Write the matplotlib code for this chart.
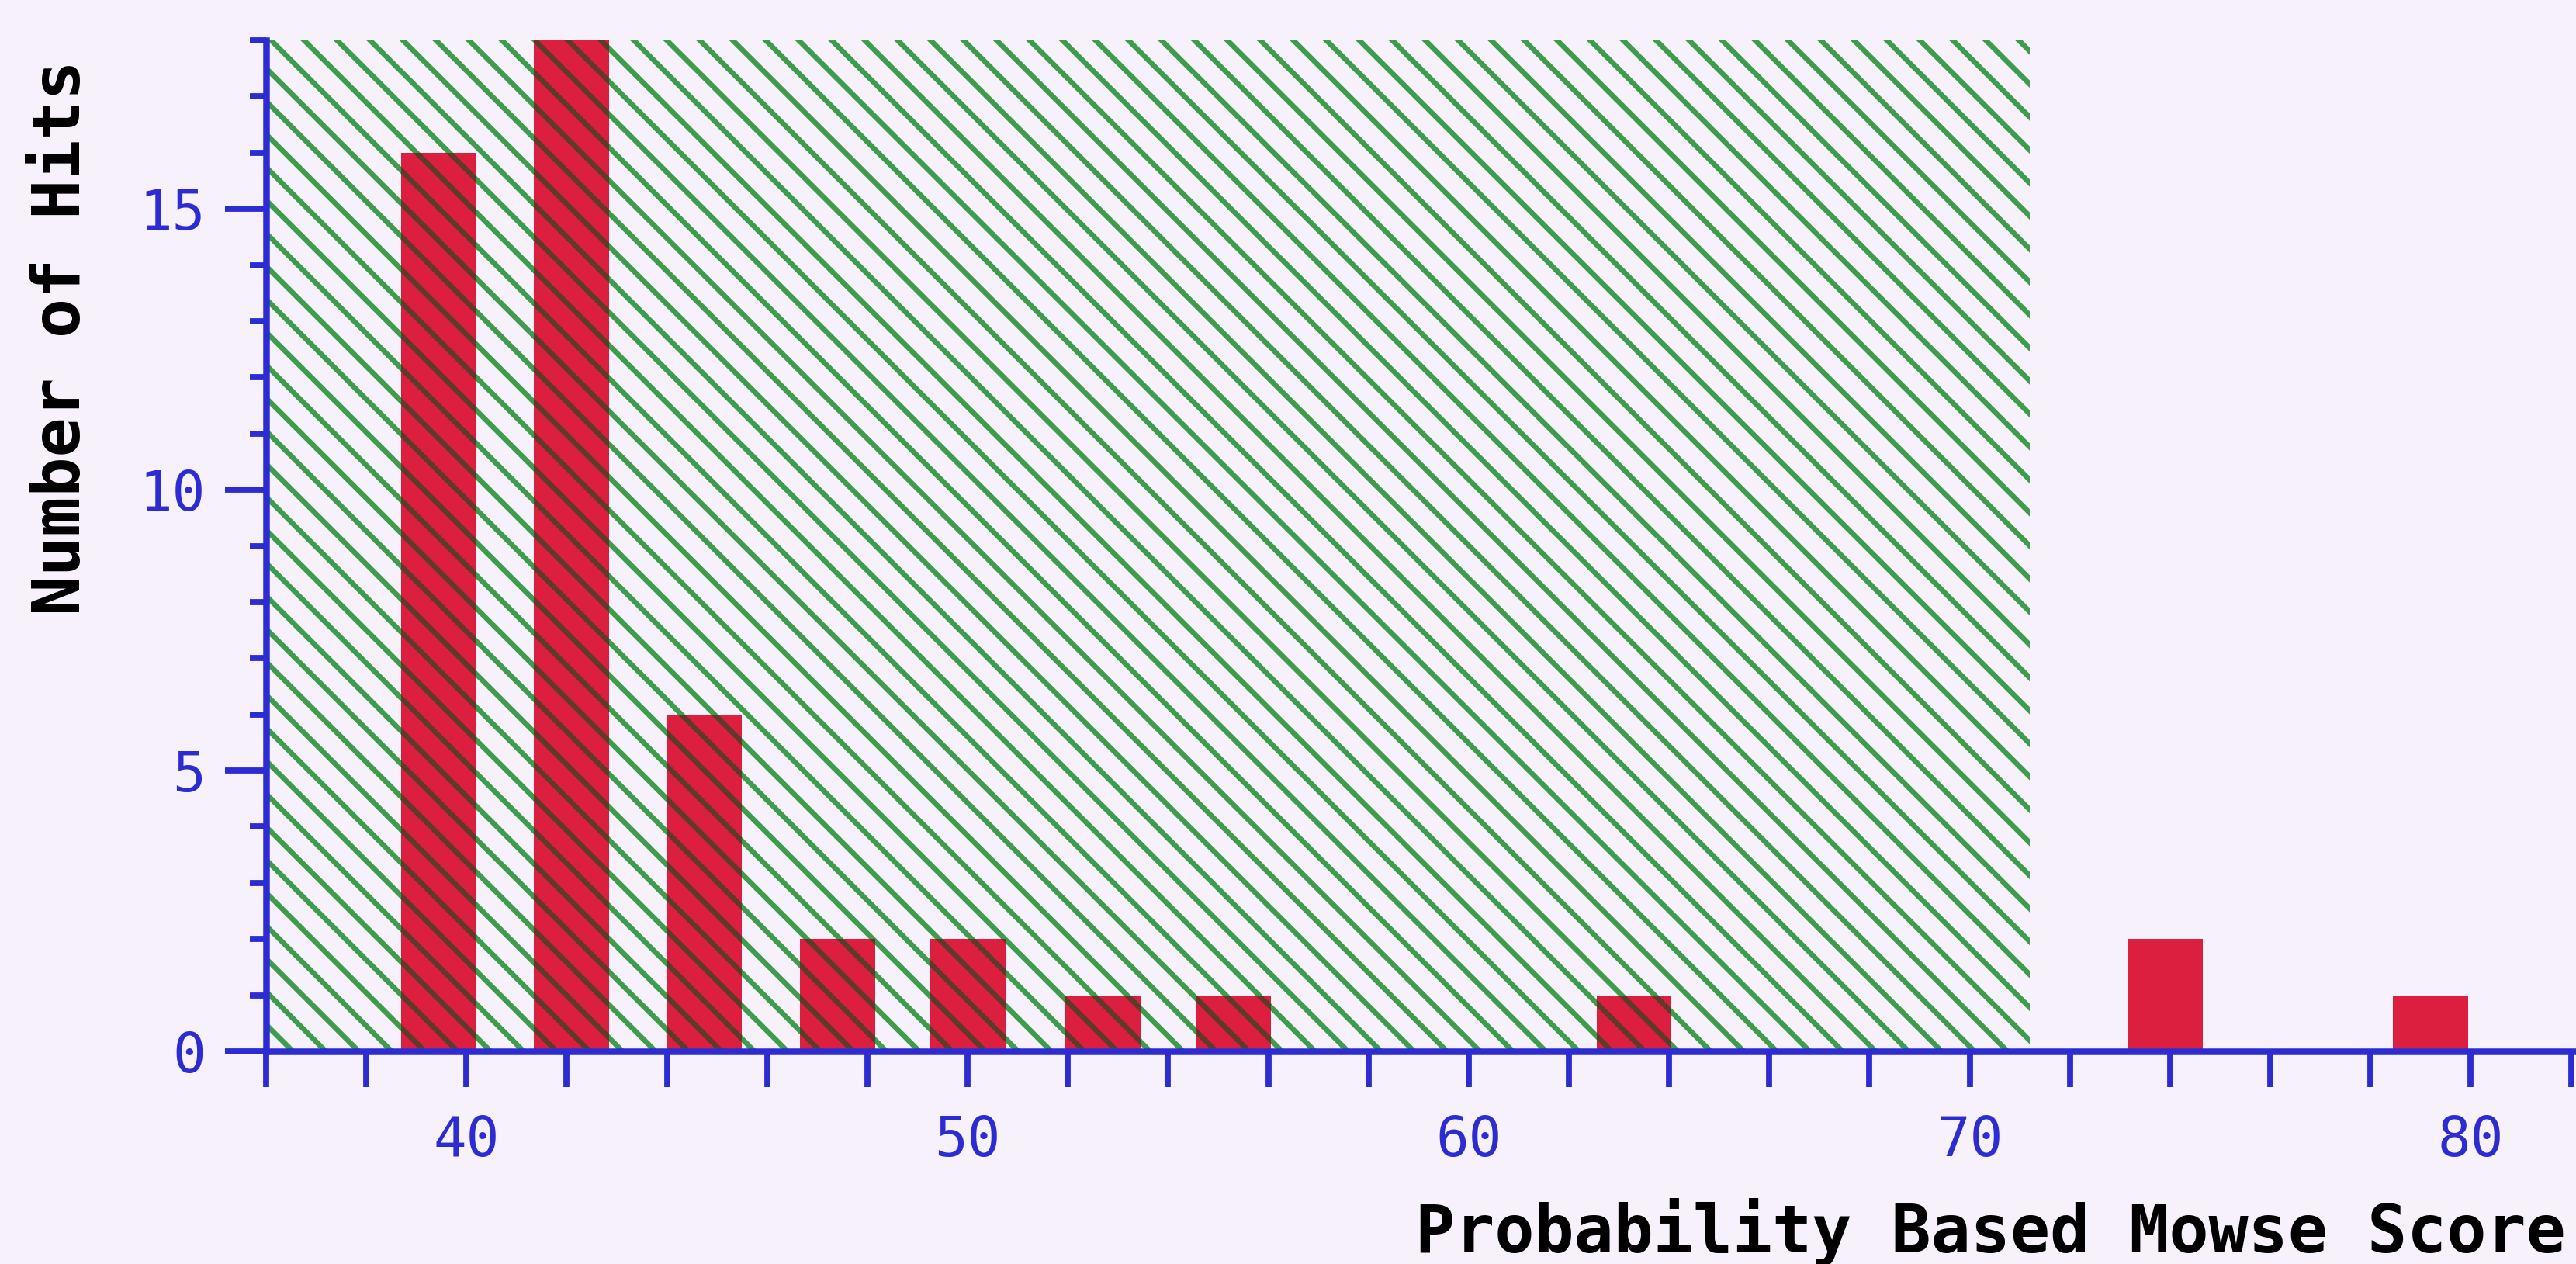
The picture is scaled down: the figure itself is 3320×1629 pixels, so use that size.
import numpy as np
import matplotlib
matplotlib.use('Agg')
import matplotlib.pyplot as plt
from matplotlib.ticker import FixedLocator, NullFormatter

# Mowse score histogram (bin centres)
scores = np.array([39.45, 42.1, 44.75, 47.4, 50.0, 52.7, 55.3, 63.3, 73.9, 79.2])
hits = np.array([16, 18, 6, 2, 2, 1, 1, 1, 2, 1])
threshold = 71.2          # end of the shaded "random match" region
bar_width = 1.5

xmin, xmax = 36, 82.1
ymin, ymax = 0, 18
x_major = [40, 50, 60, 70, 80]
x_minor = list(range(36, 83, 2))
y_major = [0, 5, 10, 15]
y_minor = list(range(0, 19))

bg = '#f6f1fa'
blue = '#2c2cd2'
red = '#dc1f3f'
green = '#3f9c4c'
dark = '#5e3a2a'

plt.rcParams['hatch.linewidth'] = 1.9

dpi = 255
fig = plt.figure(figsize=(3320 / dpi, 1629 / dpi), dpi=dpi, facecolor=bg)
ax = fig.add_axes([343 / 3320, 1 - 1355 / 1629, 1 - 343 / 3320, (1355 - 52) / 1629])
ax.set_facecolor(bg)

# shaded region
ax.axvspan(xmin, threshold, facecolor='none', edgecolor=green, hatch='\\\\',
           linewidth=0, zorder=1)

inside = scores < threshold
ax.bar(scores, hits, width=bar_width, color=red, linewidth=0, zorder=2)
ax.bar(scores[inside], hits[inside], width=bar_width, facecolor='none',
       edgecolor=dark, hatch='\\\\', linewidth=0, zorder=3)

ax.set_xlim(xmin, xmax)
ax.set_ylim(ymin, ymax)

for side in ['top', 'right']:
    ax.spines[side].set_visible(False)
for side in ['left', 'bottom']:
    ax.spines[side].set_color(blue)
    ax.spines[side].set_linewidth(2.4)
    ax.spines[side].set_zorder(4)

ax.xaxis.set_major_locator(FixedLocator(x_major))
ax.xaxis.set_minor_locator(FixedLocator(x_minor))
ax.yaxis.set_major_locator(FixedLocator(y_major))
ax.yaxis.set_minor_locator(FixedLocator(y_minor))
ax.xaxis.set_minor_formatter(NullFormatter())
ax.yaxis.set_minor_formatter(NullFormatter())

ax.tick_params(axis='x', which='both', length=13, width=2.2, color=blue,
               direction='out')
ax.tick_params(axis='x', which='major', pad=10, labelsize=20, labelcolor=blue)
ax.tick_params(axis='y', which='major', length=15, width=2.2, color=blue,
               pad=7, labelsize=20, labelcolor=blue)
ax.tick_params(axis='y', which='minor', length=6, width=2.2, color=blue)
for lab in ax.get_xticklabels() + ax.get_yticklabels():
    lab.set_family('DejaVu Sans Mono')

fig.text(3307 / 3320, 1 - 1588 / 1629, 'Probability Based Mowse Score',
         ha='right', va='center', fontsize=24, fontweight='bold',
         family='DejaVu Sans Mono', color='black')
fig.text(80 / 3320, 1 - 435 / 1629, 'Number of Hits', rotation=90,
         ha='center', va='center', fontsize=24, fontweight='bold',
         family='DejaVu Sans Mono', color='black')

fig.savefig('out.png', dpi=dpi, facecolor=bg)
